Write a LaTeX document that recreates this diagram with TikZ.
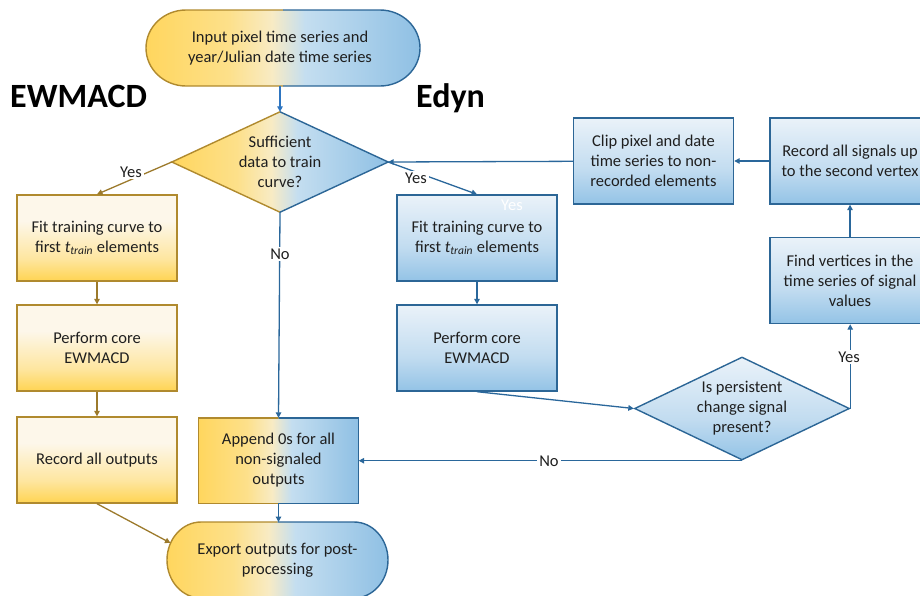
\documentclass[tikz,border=0pt]{standalone}
\usepackage{fontspec}
\setmainfont{Carlito}
\usetikzlibrary{arrows.meta,shapes.geometric}
\definecolor{gld}{HTML}{B08A2E}
\definecolor{gline}{HTML}{9C7A2C}
\definecolor{bbd}{HTML}{2C6696}
\definecolor{bline}{HTML}{2A679B}
\definecolor{topblue}{HTML}{2E75C0}
\definecolor{yD}{HTML}{FFD452}
\definecolor{yM}{HTML}{FEE6A0}
\definecolor{yT}{HTML}{FDF7EA}
\definecolor{bD}{HTML}{93C3E6}
\definecolor{bM}{HTML}{C2DCF0}
\definecolor{bT}{HTML}{EAF2F9}
\definecolor{mY}{HTML}{FFD65E}
\definecolor{mY2}{HTML}{FDE08A}
\definecolor{mP}{HTML}{F8EBC4}
\definecolor{mB1}{HTML}{C4DEF0}
\definecolor{mB}{HTML}{8FC0E4}
\pgfdeclareverticalshading{yboxsh}{100bp}{color(0bp)=(yD); color(25bp)=(yD); color(38bp)=(yM); color(60bp)=(yT); color(75bp)=(yT); color(100bp)=(yT)}
\pgfdeclareverticalshading{bboxsh}{100bp}{color(0bp)=(bD); color(25bp)=(bD); color(45bp)=(bM); color(75bp)=(bT); color(100bp)=(bT)}
\pgfdeclarehorizontalshading{mixsh}{100bp}{color(0bp)=(mY); color(25bp)=(mY); color(40bp)=(mY2); color(48bp)=(mP); color(54bp)=(mB1); color(75bp)=(mB); color(100bp)=(mB)}
% terminator: xl, xr, yt, yb, rx, ry
\newcommand\Term[6]{%
  \path[shading=mixsh] ({#1+#5},#3) -- ({#2-#5},#3) arc[start angle=90,end angle=-90,x radius=#5pt,y radius=#6pt] -- ({#1+#5},#4) arc[start angle=270,end angle=90,x radius=#5pt,y radius=#6pt] -- cycle;
  \begin{scope}
    \clip ({#1-5},{#3-5}) rectangle ({(#1+#2)/2},{#4+5});
    \draw[gld,line width=1.4pt] ({#1+#5},#3) -- ({#2-#5},#3) arc[start angle=90,end angle=-90,x radius=#5pt,y radius=#6pt] -- ({#1+#5},#4) arc[start angle=270,end angle=90,x radius=#5pt,y radius=#6pt] -- cycle;
  \end{scope}
  \begin{scope}
    \clip ({(#1+#2)/2},{#3-5}) rectangle ({#2+5},{#4+5});
    \draw[bbd,line width=1.4pt] ({#1+#5},#3) -- ({#2-#5},#3) arc[start angle=90,end angle=-90,x radius=#5pt,y radius=#6pt] -- ({#1+#5},#4) arc[start angle=270,end angle=90,x radius=#5pt,y radius=#6pt] -- cycle;
  \end{scope}}
\begin{document}
\begin{tikzpicture}[x=1pt,y=-1pt,
  every node/.style={font=\fontsize{16.5}{20}\selectfont, align=center, text=black!88},
  ybx/.style={rectangle, draw=gld, line width=1.4pt, shading=yboxsh, minimum width=160pt, minimum height=86pt, inner sep=0pt},
  bbx/.style={rectangle, draw=bbd, line width=1.4pt, shading=bboxsh, minimum width=160pt, minimum height=86pt, inner sep=0pt},
  garr/.style={draw=gline, line width=1.3pt, -{Triangle[length=5.5pt,width=5.5pt]}},
  barr/.style={draw=bline, line width=1.3pt, -{Triangle[length=5.5pt,width=5.5pt]}},
  lbl/.style={fill=white, inner sep=2pt},
  dia/.style={diamond, inner sep=0pt, shape aspect=2.1, minimum width=216pt, minimum height=100pt},
  ttl/.style={font=\fontsize{34}{40}\selectfont\bfseries, anchor=base west, inner sep=0pt, text=black}]
\useasboundingbox (0,0) rectangle (920,595);

% start terminator
\Term{146}{420}{10}{86}{40}{38}
\node (in) at (280,48) {Input pixel time series and\\year/Julian date time series};
\coordinate (inS) at (280,86);

% titles
\node[ttl] (tE) at (10,107) {EWMACD};
\node[ttl] (tD) at (416,107) {Edyn};

% decision 1
\node[dia, shading=mixsh] (d1) at (280,162) {Sufficient\\data to train\\curve?};
\begin{scope}
  \clip (100,100) rectangle (280,230);
  \draw[gld, line width=1.4pt] (d1.west) -- (d1.north) -- (d1.east) -- (d1.south) -- cycle;
\end{scope}
\begin{scope}
  \clip (280,100) rectangle (420,230);
  \draw[bbd, line width=1.4pt] (d1.west) -- (d1.north) -- (d1.east) -- (d1.south) -- cycle;
\end{scope}

% EWMACD column
\node[ybx] (e1) at (97,238) {Fit training curve to\\first \textit{t}\textsubscript{\textit{train}} elements};
\node[ybx] (e2) at (97,348) {Perform core\\EWMACD};
\node[ybx] (e3) at (97,460) {Record all outputs};

% Edyn column
\node[bbx] (y1) at (477,238) {Fit training curve to\\first \textit{t}\textsubscript{\textit{train}} elements};
\node[text=white] (wy) at (512,205) {Yes};
\node[bbx] (y2) at (477,348) {Perform core\\EWMACD};

% append box
\node[rectangle, shading=mixsh, minimum width=160pt, minimum height=85pt, inner sep=0pt] (ap) at (278.5,460.5) {Append 0s for all\\non-signaled\\outputs};
\begin{scope}
  \clip (190,410) rectangle (278.5,510);
  \draw[gld, line width=1.4pt] (ap.north west) rectangle (ap.south east);
\end{scope}
\begin{scope}
  \clip (278.5,410) rectangle (370,510);
  \draw[bbd, line width=1.4pt] (ap.north west) rectangle (ap.south east);
\end{scope}

% right loop
\node[bbx] (cl) at (653.5,161) {Clip pixel and date\\time series to non-\\recorded elements};
\node[bbx] (rc) at (850,161) {Record all signals up\\to the second vertex};
\node[bbx] (fv) at (850,280.5) {Find vertices in the\\time series of signal\\values};
\node[dia, draw=bbd, line width=1.4pt, shading=bboxsh, minimum width=215pt, minimum height=103pt] (d2) at (742,408.5) {Is persistent\\change signal\\present?};

% end terminator
\Term{167}{388}{522}{598}{34}{38}
\node (ex) at (277.5,560) {Export outputs for post-\\processing};
\coordinate (exN) at (278.5,522);
\coordinate (exW) at (170.5,543);

% connectors
\draw[barr, draw=topblue] (inS) -- (d1.north);
\draw[garr] (d1.west) -- (e1.north);
\node[lbl] (yl) at (131,172) {Yes};
\draw[barr] (d1.east) -- (y1.north);
\node[lbl] (yr) at (416,178) {Yes};
\draw[barr] (d1.south) -- (ap.north);
\node[lbl] (n1) at (280,254) {No};
\draw[garr] (e1) -- (e2);
\draw[garr] (e2) -- (e3);
\draw[garr] (e3.south) -- (exW);
\draw[barr] (y1) -- (y2);
\draw[barr] (y2.south) -- (d2.west);
\draw[barr] (d2.south) -- (d2.south -| ap.east);
\node[lbl] (n2) at (549,461) {No};
\draw[barr] (d2.east) -- (d2.east |- fv.south);
\node[lbl] (y3) at (849,357) {Yes};
\draw[barr] (fv) -- (rc);
\draw[barr] (rc) -- (cl);
\draw[barr] (cl) -- (d1.east);
\draw[barr] (ap.south) -- (exN);
\end{tikzpicture}
\end{document}
